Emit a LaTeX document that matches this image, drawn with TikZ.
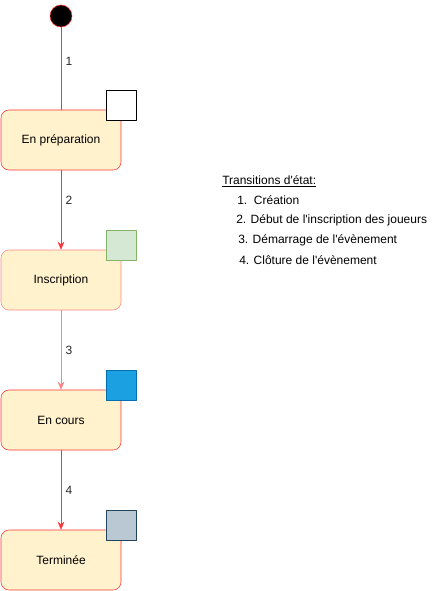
\documentclass[tikz,border=0pt]{standalone}
\usepackage{fontspec}
\setmainfont{Liberation Sans}[Ligatures=TeXOff]
\usetikzlibrary{arrows.meta}
\definecolor{etatfond}{HTML}{FFF2CC}
\definecolor{etatbord}{HTML}{FF3333}
\definecolor{vertfond}{HTML}{D5E8D4}
\definecolor{vertbord}{HTML}{82B366}
\definecolor{bleufond}{HTML}{1BA1E2}
\definecolor{bleubord}{HTML}{006EAF}
\definecolor{grisfond}{HTML}{BAC8D3}
\definecolor{grisbord}{HTML}{23445D}
\begin{document}
\begin{tikzpicture}[x=0.75pt,y=-0.75pt,line cap=round,line join=round,font=\fontsize{9}{11}\selectfont,
	etat/.style={draw=etatbord,fill=etatfond,rounded corners=6pt,minimum width=90pt,minimum height=45pt,inner sep=0pt},
	fleche/.style={draw=etatbord,-{Stealth[length=6pt,width=5pt]}},
	num/.style={right,text=black!85}]
	\useasboundingbox (0,0) rectangle (447,591);
	\node[circle,fill=black,draw=etatbord,minimum size=16.5pt,inner sep=0pt] (debut) at (61,16) {};
	\node[etat] (prep) at (61,140) {En préparation};
	\node[etat,draw=etatbord!60] (insc) at (61,280) {Inscription};
	\node[etat] (cours) at (61,420) {En cours};
	\node[etat] (fin) at (61,560) {Terminée};
	% petits carres
	\foreach \n/\y/\f/\b in {1/105/white/black,2/245/vertfond/vertbord,3/385/bleufond/bleubord,4/525/grisfond/grisbord}{
		\node[draw=\b,fill=\f,minimum size=22.5pt,inner sep=0pt] (carre\n) at (121,\y) {};}
	\draw[etatbord] (debut) -- (prep) node[num,pos=0.41] {1};
	\draw[fleche] (prep) -- (insc) node[num,pos=0.38] {2};
	\draw[fleche,draw=etatbord!60] (insc) -- (cours) node[num,pos=0.51] {3};
	\draw[fleche] (cours) -- (fin) node[num,pos=0.51] {4};
	% legende
	\node[anchor=west,inner sep=0pt] (leg0) at (222,181) {\underline{Transitions d'état:}};
	\foreach \n/\x/\t in {1/237/{1.\ \ Création},2/236/{2. Début de l'inscription des joueurs},3/238/{3. Démarrage de l'évènement},4/239/{4. Clôture de l'évènement}}{
		\node[anchor=west,inner sep=0pt] (leg\n) at (\x,180+20*\n) {\t};}
\end{tikzpicture}
\end{document}
